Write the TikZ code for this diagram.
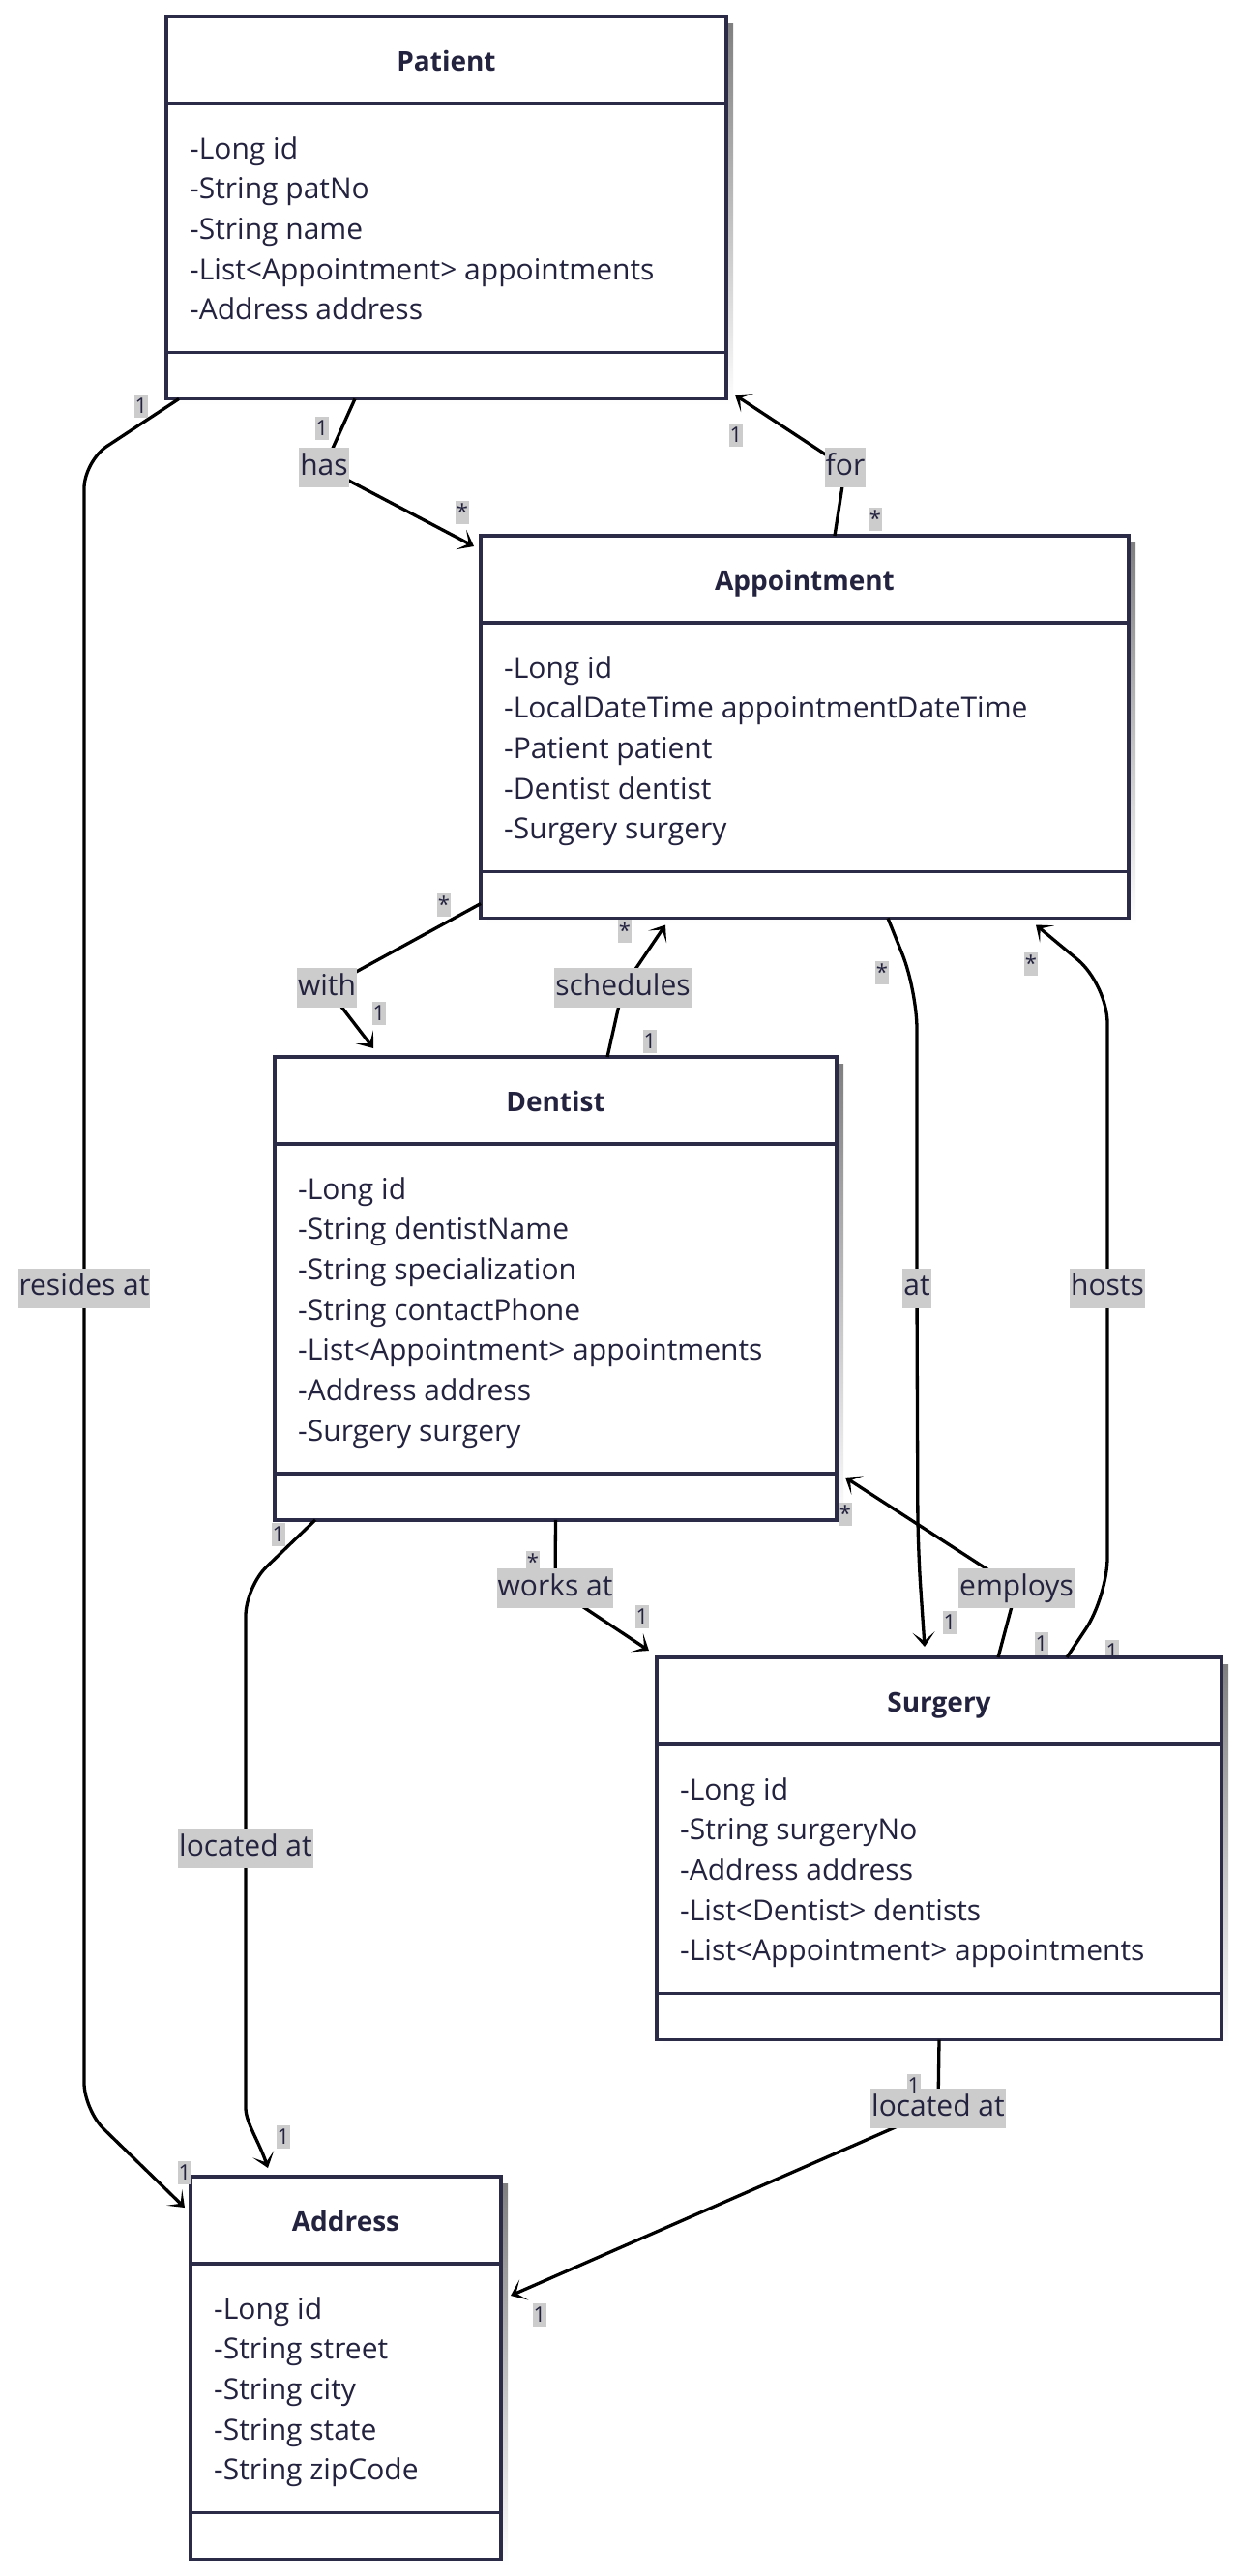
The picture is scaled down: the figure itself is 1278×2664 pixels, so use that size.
\documentclass[tikz,border=0pt]{standalone}
\usepackage{fontspec}
\setmainfont{Open Sans}
\usetikzlibrary{arrows.meta,calc}

\definecolor{boxdraw}{HTML}{2B2A47}
\definecolor{ink}{HTML}{24233F}
\definecolor{labelbg}{HTML}{CCCCCC}
\definecolor{shade}{HTML}{F2F2F2}

\tikzset{
  classbox/.style={rectangle, draw=boxdraw, line width=3.5pt, fill=white, inner sep=0pt, outer sep=0pt},
  classrule/.style={draw=boxdraw, line width=3.5pt},
  classtitle/.style={text=ink, font=\fontsize{28}{32}\selectfont\bfseries, inner sep=0pt, anchor=base},
  attrline/.style={text=ink, font=\fontsize{30}{36}\selectfont, inner sep=0pt, anchor=base west},
  assoc/.style={draw=black, line width=3.3pt, line join=round, -{Stealth[length=15pt,width=23pt,inset=9pt]}},
  rolelabel/.style={fill=labelbg, text=ink, font=\fontsize{30}{36}\selectfont, inner xsep=1pt, inner ysep=7pt, text height=21pt, text depth=6pt},
  multlabel/.style={fill=labelbg, text=ink, font=\fontsize{22}{26}\selectfont, inner xsep=0.8pt, inner ysep=2.5pt, text height=17pt, text depth=2pt},
}

% #1 name, #2 left, #3 top, #4 width, #5 number of attributes, #6 class name, #7 attributes
\newcommand\umlclass[7]{%
  \pgfmathsetmacro\rulea{#3+90}%
  \pgfmathsetmacro\ruleb{#3+139+41.7*#5}%
  \pgfmathsetmacro\boxh{139+41.7*#5+48}%
  \fill[shade] (#2+7,#3+7) rectangle (#2+#4+7,#3+\boxh+7);
  \node[classbox, anchor=north west, minimum width=#4pt, minimum height=\boxh pt] (#1) at (#2,#3) {};
  \draw[classrule] (#2,\rulea) -- (#2+#4,\rulea);
  \draw[classrule] (#2,\ruleb) -- (#2+#4,\ruleb);
  \node[classtitle] (#1-title) at (#2+#4/2,#3+56) {#6};
  \foreach \attr [count=\k from 0] in {#7}
    \node[attrline] at (#2+24,#3+147+41.7*\k) {\attr};
}

\begin{document}
\begin{tikzpicture}[x=1pt,y=-1pt]
\path[use as bounding box, fill=white] (0,0) rectangle (1278,2664);

% multiplicity partly tucked under the Surgery box
\node[multlabel] (m13) at (1150,1708) {1};

% classes
\umlclass{pat}{172}{17}{579}{5}{Patient}{-Long id,-String patNo,-String name,-List<Appointment> appointments,-Address address}
\umlclass{apt}{497}{554}{670}{5}{Appointment}{-Long id,-LocalDateTime appointmentDateTime,-Patient patient,-Dentist dentist,-Surgery surgery}
\umlclass{den}{284}{1093}{581}{7}{Dentist}{-Long id,-String dentistName,-String specialization,-String contactPhone,-List<Appointment> appointments,-Address address,-Surgery surgery}
\umlclass{sur}{679}{1714}{584}{5}{Surgery}{-Long id,-String surgeryNo,-Address address,-List<Dentist> dentists,-List<Appointment> appointments}
\umlclass{adr}{197}{2251}{321}{5}{Address}{-Long id,-String street,-String city,-String state,-String zipCode}

% label positions and bends
\coordinate (Lres) at (87,1332);
\coordinate (Lhas) at (335,483.5);
\coordinate (Lfor) at (874,483.5);
\coordinate (Lwith) at (338,1021.5);
\coordinate (Lsch) at (644,1021.5);
\coordinate (Lat) at (948,1332);
\coordinate (Lhost) at (1145,1332);
\coordinate (Lemp) at (1051,1642.5);
\coordinate (Lwork) at (574,1642.5);
\coordinate (Lloc) at (254,1911.5);
\coordinate (Lsloc) at (970,2180.5);

\coordinate (resA) at (87,477);
\coordinate (resB) at (87,2182);
\coordinate (atA) at (948,1024);
\coordinate (atB) at (949,1600);
\coordinate (hostA) at (1145,1651);
\coordinate (hostB) at (1145,1018);
\coordinate (locA) at (254,1641);
\coordinate (locB) at (254,2150);

% associations
\draw[assoc, rounded corners=28pt] ($(pat.south west)+(13,0)$) -- (resA) -- (Lres) -- (resB) -- ($(adr.north west)+(-6,32)$);
\draw[assoc] ($(pat.south west)+(195,0)$) -- (Lhas) -- ($(apt.north west)+(-7,11)$);
\draw[assoc] ($(apt.north west)+(366,0)$) -- (Lfor) -- ($(pat.south east)+(9,-4)$);
\draw[assoc] ($(apt.south west)+(0,-15)$) -- (Lwith) -- ($(den.north west)+(102,-9)$);
\draw[assoc] ($(den.north west)+(344,0)$) -- (Lsch) -- ($(apt.south west)+(191,7)$);
\draw[assoc, rounded corners=40pt] ($(apt.south west)+(421,0)$) -- (atA) -- (Lat) -- (atB) -- ($(sur.north west)+(277,-11)$);
\draw[assoc, rounded corners=40pt] ($(sur.north west)+(424,0)$) -- (hostA) -- (Lhost) -- (hostB) -- ($(apt.south east)+(-96,7)$);
\draw[assoc] ($(sur.north west)+(353,0)$) -- (Lemp) -- ($(den.south east)+(9,-44)$);
\draw[assoc] (den.south) -- (Lwork) -- ($(sur.north west)+(-8,-7)$);
\draw[assoc, rounded corners=30pt] ($(den.south west)+(42,0)$) -- (locA) -- (Lloc) -- (locB) .. controls (254,2195) and (268,2215) .. ($(adr.north west)+(80,-9)$);
\draw[assoc] (sur.south) -- (Lsloc) -- ($(adr.north east)+(10,123)$);

% role names
\node[rolelabel] (tres) at (Lres) {resides at};
\node[rolelabel] (thas) at (Lhas) {has};
\node[rolelabel] (tfor) at (Lfor) {for};
\node[rolelabel] (twith) at (Lwith) {with};
\node[rolelabel] (tsch) at (Lsch) {schedules};
\node[rolelabel] (tat) at (Lat) {at};
\node[rolelabel] (thost) at (Lhost) {hosts};
\node[rolelabel] (temp) at (Lemp) {employs};
\node[rolelabel] (twork) at (Lwork) {works at};
\node[rolelabel] (tloc) at (Lloc) {located at};
\node[rolelabel] (tsloc) at (Lsloc) {located at};

% multiplicities
\node[multlabel] (m1) at (146,420) {1};
\node[multlabel] (m2) at (333,443) {1};
\node[multlabel] (m3) at (478,530) {*};
\node[multlabel] (m4) at (761,450) {1};
\node[multlabel] (m5) at (905,537) {*};
\node[multlabel] (m6) at (459,936) {*};
\node[multlabel] (m7) at (392,1048) {1};
\node[multlabel] (m8) at (646,963) {*};
\node[multlabel] (m9) at (672,1077) {1};
\node[multlabel] (m10) at (912,1006) {*};
\node[multlabel] (m11) at (982,1678) {1};
\node[multlabel] (m12) at (1066,997) {*};
\node[multlabel] (m14) at (874,1566) {*};
\node[multlabel] (m15) at (1077,1700) {1};
\node[multlabel] (m16) at (551,1616) {*};
\node[multlabel] (m17) at (664,1672) {1};
\node[multlabel] (m18) at (288,1587) {1};
\node[multlabel] (m19) at (293,2210) {1};
\node[multlabel] (m20) at (191,2247) {1};
\node[multlabel] (m21) at (945,2157) {1};
\node[multlabel] (m22) at (558,2394) {1};
\end{tikzpicture}
\end{document}
